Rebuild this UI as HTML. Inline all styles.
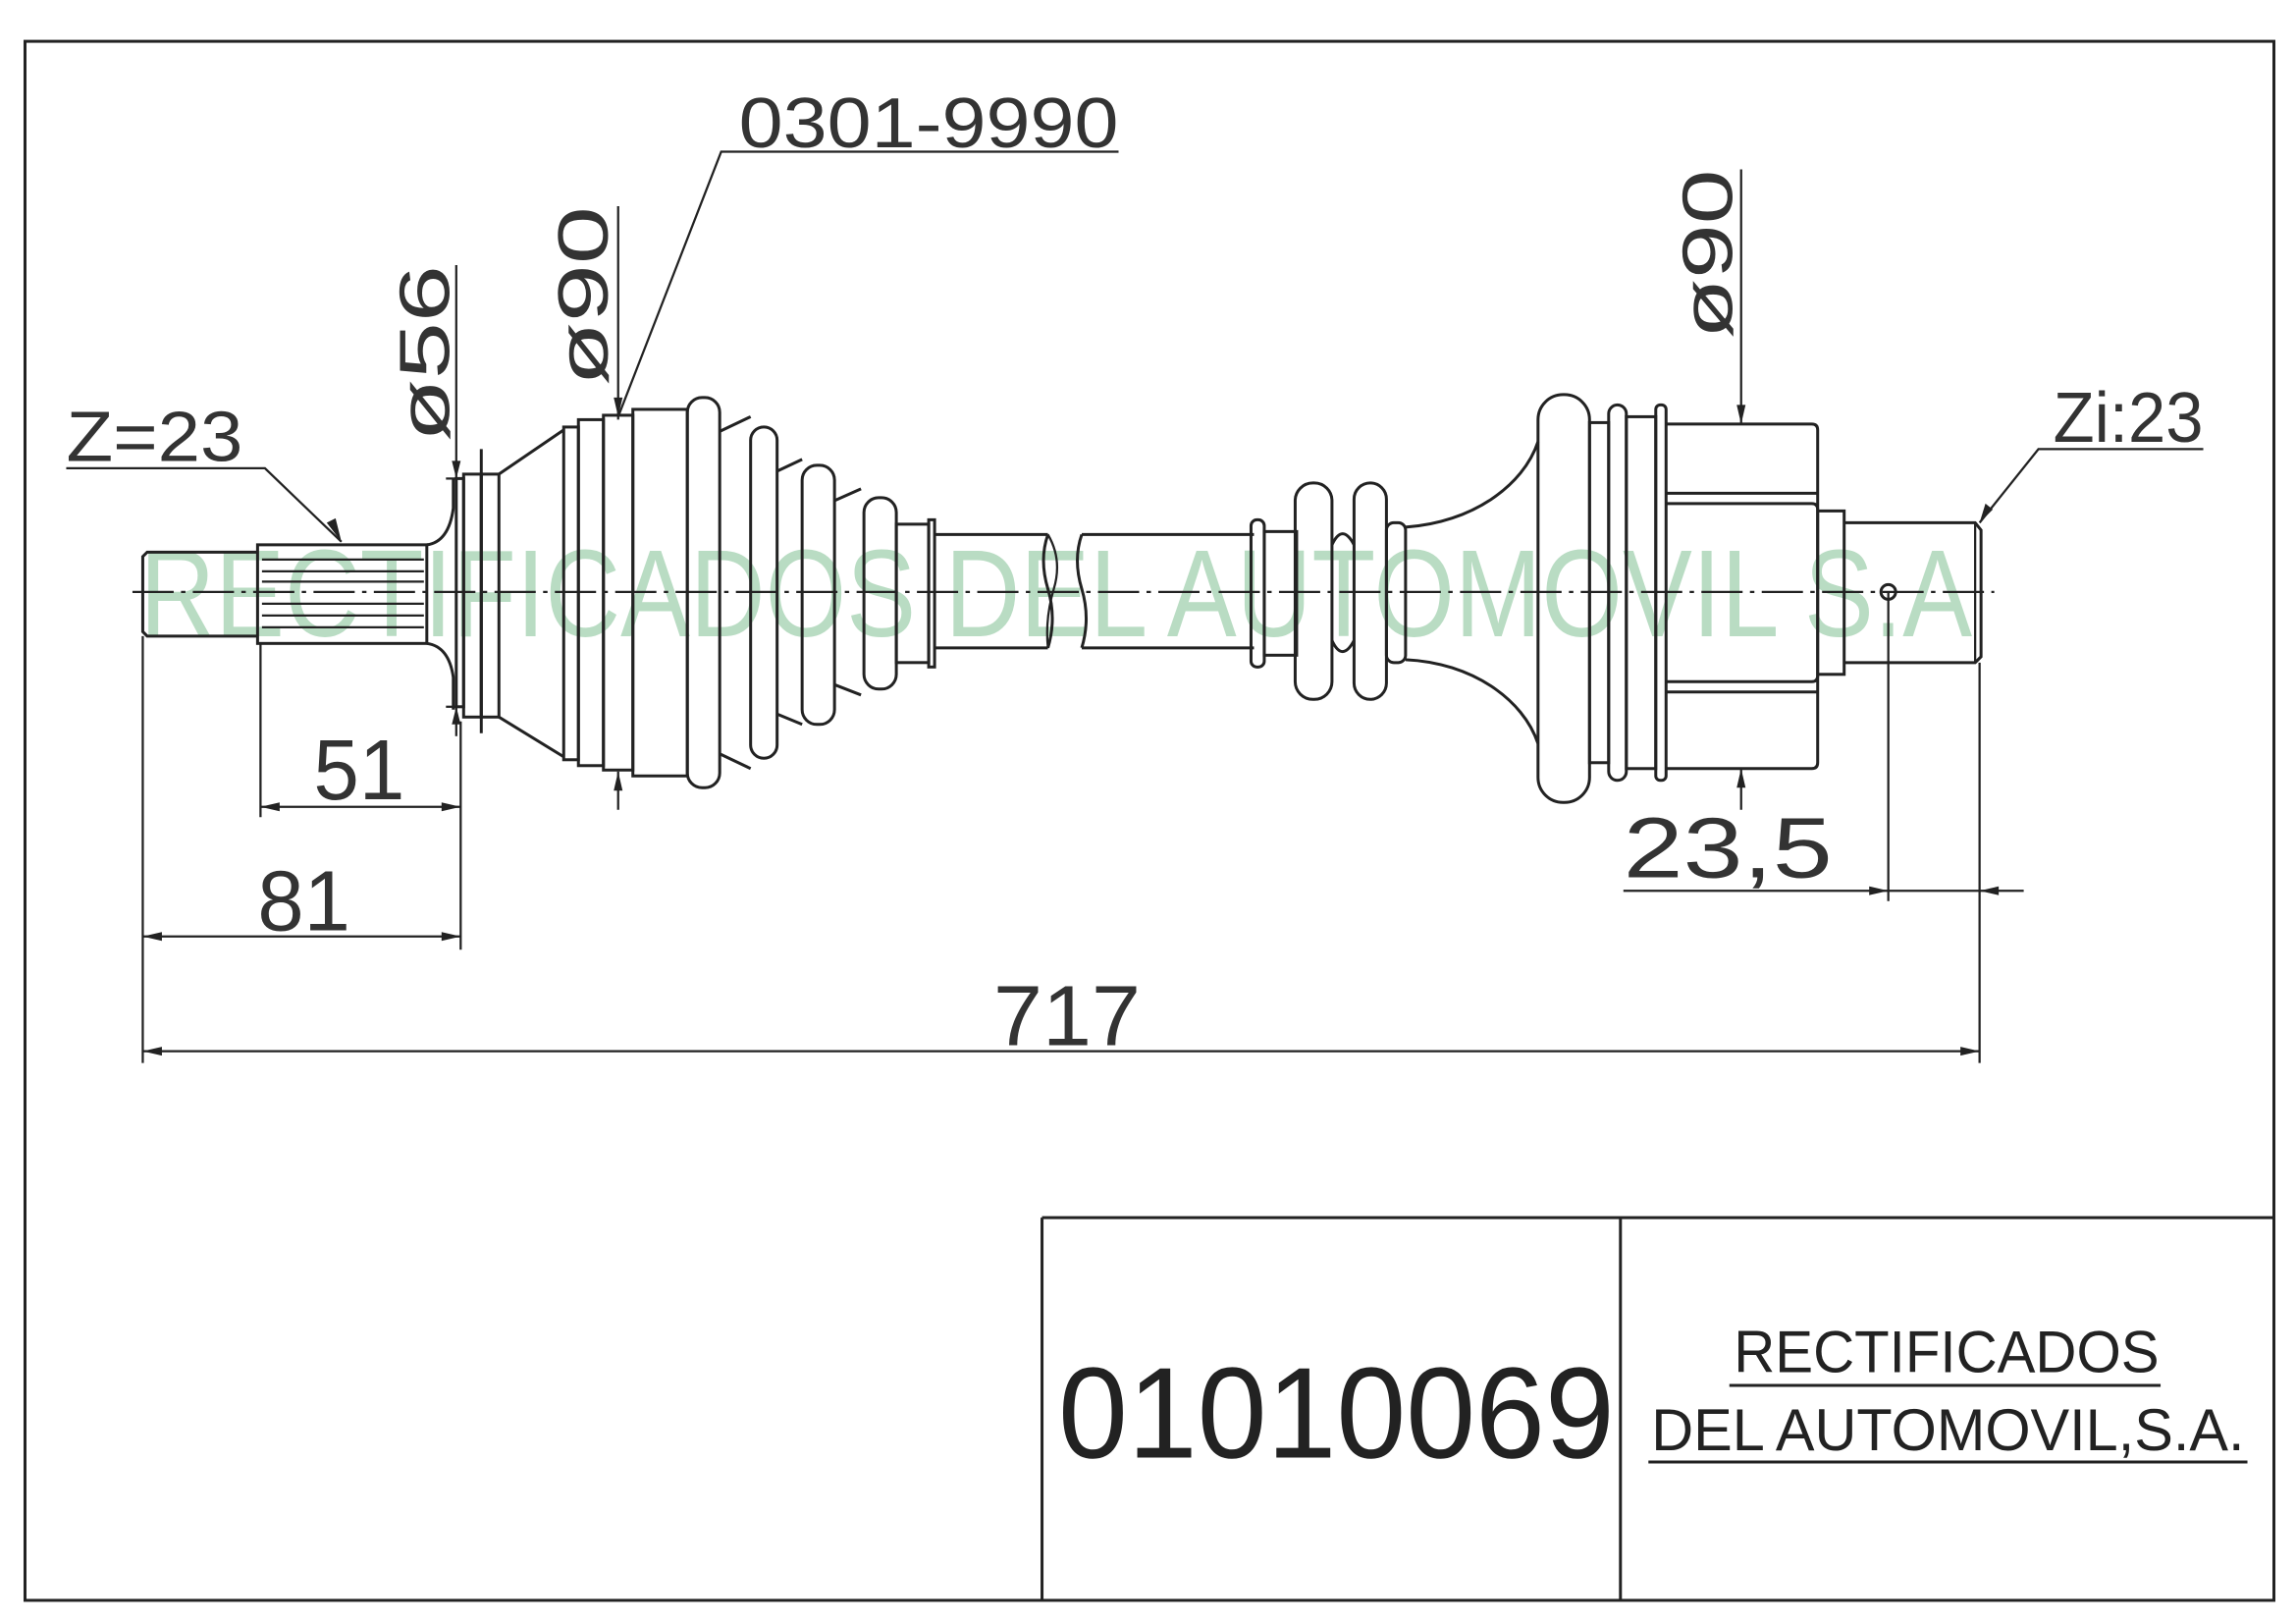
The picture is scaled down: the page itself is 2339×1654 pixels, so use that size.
<!DOCTYPE html>
<html><head><meta charset="utf-8"><style>
html,body{margin:0;padding:0;background:#fff;}
svg{display:block;}
</style></head><body>
<svg width="2339" height="1654" viewBox="0 0 1560 1103" xmlns="http://www.w3.org/2000/svg">
<rect x="0" y="0" width="1560" height="1103" fill="#fff"/>
<!-- watermark -->
<text x="95" y="432" font-family="Liberation Sans, sans-serif" font-size="84" fill="#b9dcc3" textLength="1245" lengthAdjust="spacingAndGlyphs">RECTIFICADOS DEL AUTOMOVIL S.A</text>
<g fill="none" stroke="#222" stroke-width="2">
<!-- border -->
<rect x="17" y="28" width="1528" height="1059"/>
<line x1="708" y1="827" x2="1545" y2="827"/>
<line x1="708" y1="827" x2="708" y2="1087"/>
<line x1="1101" y1="827" x2="1101" y2="1087"/>
<!-- centerline -->
<line x1="90" y1="402" x2="1355" y2="402" stroke-width="1.5" stroke-dasharray="28 5 3 5"/>
<!-- left stub -->
<path d="M175,375 H100 L97,378 V429 L100,432 H175"/>
<rect x="175" y="370" width="115" height="67"/>
<g stroke-width="1.5">
<line x1="178" y1="380" x2="288" y2="380"/><line x1="178" y1="388" x2="288" y2="388"/>
<line x1="178" y1="395" x2="288" y2="395"/><line x1="178" y1="410" x2="288" y2="410"/>
<line x1="178" y1="418" x2="288" y2="418"/><line x1="178" y1="426" x2="288" y2="426"/>
</g>
<path d="M290,370 Q305,368 308,345 V325"/>
<path d="M290,437 Q305,439 308,460 V482"/>
<rect x="310" y="325" width="5" height="155"/>
<rect x="315" y="322" width="12" height="165"/>
<line x1="327" y1="305" x2="327" y2="498"/>
<rect x="327" y="322" width="12" height="165"/>
<path d="M339,322 L383,292 M339,487 L383,514"/>
<rect x="383" y="290" width="10" height="226"/>
<rect x="393" y="285" width="17" height="235"/>
<rect x="410" y="282" width="20" height="241"/>
<rect x="430" y="278" width="37" height="249"/>
<rect x="467" y="270" width="22" height="265" rx="10"/>
<path d="M489,293 L510,283 M489,512 L510,522"/>
<rect x="510" y="290" width="18" height="225" rx="9"/>
<path d="M528,320 L545,312 M528,485 L545,492"/>
<rect x="545" y="316" width="22" height="176" rx="10"/>
<path d="M567,340 L585,332 M567,465 L585,472"/>
<rect x="587" y="338" width="22" height="130" rx="10"/>
<rect x="609" y="356" width="22" height="94"/>
<rect x="631" y="353" width="4" height="100"/>
<!-- shaft left -->
<path d="M635,363 H712 M635,440 H712"/>
<path d="M712,363 Q706,380 712,400 Q718,420 712,440"/>
<path d="M712,363 Q722,380 716,400 Q710,420 712,440" stroke-width="1.5"/>
<path d="M735,363 Q729,380 735,400 Q741,420 735,440"/>
<path d="M735,363 H852 M735,440 H852"/>
<!-- right small boot -->
<rect x="850" y="353" width="9" height="100" rx="4"/>
<rect x="859" y="361" width="22" height="84"/>
<rect x="880" y="328" width="25" height="147" rx="12"/>
<path d="M905,370 Q912,355 920,370 M905,435 Q912,450 920,435"/>
<rect x="920" y="328" width="22" height="147" rx="11"/>
<rect x="942" y="355" width="13" height="95" rx="5"/>
<path d="M955,358 C1000,355 1035,330 1045,300 M955,448 C1000,450 1035,475 1045,505"/>
<rect x="1045" y="268" width="35" height="277" rx="17"/>
<rect x="1080" y="287" width="13" height="231"/>
<rect x="1093" y="275" width="12" height="255" rx="6"/>
<rect x="1105" y="283" width="20" height="239"/>
<rect x="1125" y="275" width="7" height="255" rx="3"/>
<path d="M1132,288 H1231 Q1235,288 1235,292 V518 Q1235,522 1231,522 H1132"/>
<path d="M1132,335 H1235 M1132,342 H1231 Q1235,342 1235,346 M1132,463 H1231 Q1235,463 1235,459 M1132,470 H1235"/>
<rect x="1235" y="347" width="18" height="111"/>
<path d="M1253,355 H1342 L1346,360 V446 L1342,450 H1253"/>
<line x1="1342" y1="355" x2="1342" y2="450" stroke-width="1.5"/>
<circle cx="1283" cy="402" r="5"/>
<!-- dimension lines -->
<g stroke-width="1.5">
<path d="M45,318 H180 L232,368"/>
<line x1="310" y1="180" x2="310" y2="330"/>
<line x1="303" y1="325" x2="310" y2="325"/>
<line x1="310" y1="478" x2="310" y2="500"/>
<line x1="303" y1="480" x2="310" y2="480"/>
<line x1="420" y1="140" x2="420" y2="285"/>
<line x1="420" y1="524" x2="420" y2="550"/>
<path d="M760,103 H490 L420,283"/>
<line x1="177" y1="437" x2="177" y2="555"/>
<line x1="313" y1="490" x2="313" y2="645"/>
<line x1="177" y1="548" x2="313" y2="548"/>
<line x1="97" y1="432" x2="97" y2="722"/>
<line x1="97" y1="636" x2="313" y2="636"/>
<line x1="1345" y1="450" x2="1345" y2="722"/>
<line x1="97" y1="714" x2="1345" y2="714"/>
<line x1="1183" y1="115" x2="1183" y2="288"/>
<line x1="1183" y1="522" x2="1183" y2="550"/>
<line x1="1283" y1="402" x2="1283" y2="612"/>
<line x1="1103" y1="605" x2="1375" y2="605"/>
<path d="M1497,305 H1385 L1345,355"/>
</g>
</g>
<!-- arrowheads -->
<g fill="#222">
<path d="M232,368 L222,355 L228,352 Z"/>
<path d="M310,325 L307,313 L313,313 Z"/>
<path d="M310,480 L307,492 L313,492 Z"/>
<path d="M420,283 L417,270 L423,270 Z"/>
<path d="M420,524 L417,537 L423,537 Z"/>
<path d="M177,548 L190,545 L190,551 Z"/>
<path d="M313,548 L300,545 L300,551 Z"/>
<path d="M97,636 L110,633 L110,639 Z"/>
<path d="M313,636 L300,633 L300,639 Z"/>
<path d="M97,714 L110,711 L110,717 Z"/>
<path d="M1345,714 L1332,711 L1332,717 Z"/>
<path d="M1183,288 L1180,275 L1186,275 Z"/>
<path d="M1183,522 L1180,535 L1186,535 Z"/>
<path d="M1283,605 L1270,602 L1270,608 Z"/>
<path d="M1345,605 L1358,602 L1358,608 Z"/>
<path d="M1345,355 L1349,342 L1354,346 Z"/>
</g>
<!-- dimension text -->
<g font-family="Liberation Sans, sans-serif" fill="#333" font-size="48">
<text x="45" y="313" textLength="120" lengthAdjust="spacingAndGlyphs">Z=23</text>
<text x="502" y="100" textLength="258" lengthAdjust="spacingAndGlyphs">0301-9990</text>
<text x="213" y="543" font-size="58" textLength="62" lengthAdjust="spacingAndGlyphs">51</text>
<text x="175" y="632" font-size="58" textLength="63" lengthAdjust="spacingAndGlyphs">81</text>
<text x="675" y="710" font-size="58" textLength="100" lengthAdjust="spacingAndGlyphs">717</text>
<text x="1103" y="596" font-size="58" textLength="142" lengthAdjust="spacingAndGlyphs">23,5</text>
<text x="1395" y="300" textLength="102" lengthAdjust="spacingAndGlyphs">Zi:23</text>
<text transform="translate(305,300) rotate(-90)" textLength="120" lengthAdjust="spacingAndGlyphs">ø56</text>
<text transform="translate(413,262) rotate(-90)" textLength="122" lengthAdjust="spacingAndGlyphs">ø90</text>
<text transform="translate(1177,230) rotate(-90)" textLength="115" lengthAdjust="spacingAndGlyphs">ø90</text>
</g>
<!-- title block -->
<g font-family="Liberation Sans, sans-serif" fill="#222">
<text x="719" y="990" font-size="88" textLength="378" lengthAdjust="spacingAndGlyphs">01010069</text>
<text x="1178" y="932" font-size="40" textLength="289" lengthAdjust="spacingAndGlyphs">RECTIFICADOS</text>
<text x="1122" y="985" font-size="40" textLength="403" lengthAdjust="spacingAndGlyphs">DEL AUTOMOVIL,S.A.</text>
</g>
<g stroke="#222" stroke-width="2">
<line x1="1175" y1="941" x2="1468" y2="941"/>
<line x1="1120" y1="993" x2="1527" y2="993"/>
</g>
</svg>
</body></html>
